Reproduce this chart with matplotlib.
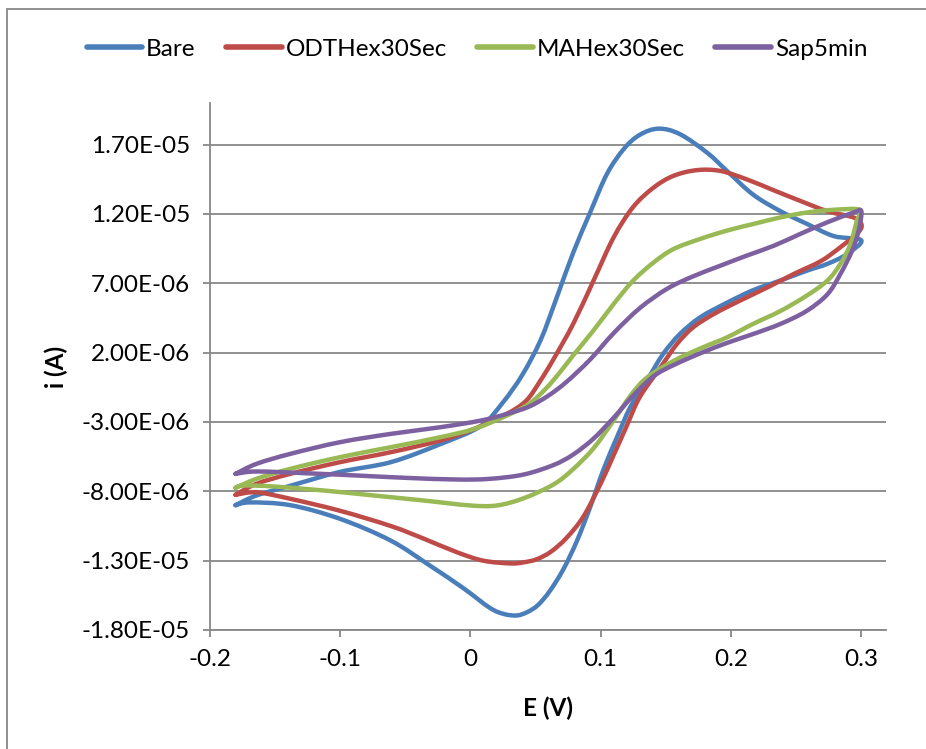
import numpy as np
import matplotlib

matplotlib.use("Agg")
import matplotlib.pyplot as plt
from matplotlib.lines import Line2D
from matplotlib.patches import PathPatch, Rectangle
from matplotlib.path import Path
from matplotlib.ticker import FuncFormatter

# potential (V) and current (uA), one closed loop each:
# forward scan from the left vertex, then the return scan back to it
bare_e = [-0.180, -0.164, -0.138, -0.100, -0.061, -0.023, 0.008, 0.025, 0.040, 0.054,
          0.0665, 0.079, 0.092, 0.105, 0.118, 0.130, 0.1445, 0.161, 0.182, 0.197,
          0.217, 0.238, 0.258, 0.279, 0.300,
          0.289, 0.274, 0.258, 0.238, 0.217, 0.197, 0.1765, 0.161, 0.148, 0.1356,
          0.123, 0.1126, 0.102, 0.092, 0.082, 0.0716, 0.061, 0.052, 0.044, 0.036,
          0.026, 0.015, -0.005, -0.031, -0.061, -0.100, -0.138, -0.169, -0.180]
bare_i = [-9.0, -8.3, -7.6, -6.6, -5.9, -4.6, -3.3, -1.6, 0.4, 2.9,
          6.0, 9.2, 12.1, 14.9, 16.7, 17.7, 18.15, 17.75, 16.4, 15.1,
          13.4, 12.2, 11.3, 10.4, 10.1,
          9.1, 8.4, 7.9, 7.2, 6.5, 5.6, 4.55, 3.35, 1.9, 0.0,
          -1.9, -4.1, -6.5, -9.15, -11.55, -13.6, -15.2, -16.2, -16.7, -16.95,
          -16.85, -16.4, -15.0, -13.35, -11.55, -9.98, -9.0, -8.8, -9.0]

odt_e = [-0.180, -0.164, -0.138, -0.100, -0.061, -0.023, 0.003, 0.028, 0.043, 0.054,
         0.064, 0.079, 0.0946, 0.110, 0.125, 0.1407, 0.156, 0.174, 0.192, 0.212,
         0.233, 0.253, 0.274, 0.294, 0.300,
         0.298, 0.284, 0.269, 0.248, 0.228, 0.207, 0.187, 0.171, 0.1586, 0.146,
         0.130, 0.120, 0.110, 0.100, 0.087, 0.074, 0.062, 0.051, 0.041, 0.031,
         0.010, -0.010, -0.036, -0.061, -0.100, -0.138, -0.164, -0.180]
odt_i = [-8.25, -7.46, -6.74, -5.9, -5.18, -4.34, -3.5, -2.42, -1.46, 0.0,
         1.54, 4.07, 7.19, 10.3, 12.5, 13.9, 14.75, 15.16, 15.1, 14.5,
         13.7, 12.95, 12.2, 11.75, 11.3,
         10.7, 9.6, 8.6, 7.66, 6.7, 5.75, 4.79, 3.82, 2.62, 0.94,
         -1.22, -3.3, -5.4, -7.46, -9.8, -11.35, -12.35, -12.9, -13.12, -13.2,
         -13.0, -12.4, -11.4, -10.5, -9.4, -8.54, -8.07, -8.25]

mah_e = [-0.180, -0.164, -0.138, -0.100, -0.061, -0.023, 0.003, 0.028, 0.045, 0.058,
         0.069, 0.079, 0.0946, 0.110, 0.125, 0.1407, 0.156, 0.1765, 0.197, 0.217,
         0.238, 0.258, 0.279, 0.299,
         0.2966, 0.2916, 0.284, 0.274, 0.258, 0.238, 0.217, 0.197, 0.1765, 0.156,
         0.1356, 0.123, 0.110, 0.0946, 0.079, 0.064, 0.041, 0.0205, 0.000, -0.036,
         -0.074, -0.1126, -0.151, -0.174, -0.180]
mah_i = [-7.75, -7.1, -6.38, -5.54, -4.82, -4.1, -3.5, -2.54, -1.7, -0.6,
         0.6, 1.8, 3.6, 5.5, 7.19, 8.5, 9.47, 10.2, 10.8, 11.27,
         11.75, 12.1, 12.3, 12.3,
         11.5, 9.8, 8.4, 7.19, 6.1, 5.0, 4.07, 3.1, 2.3, 1.4,
         0.2, -1.1, -2.9, -4.9, -6.4, -7.5, -8.5, -9.02, -9.02, -8.66,
         -8.3, -7.94, -7.65, -7.58, -7.75]

sap_e = [-0.180, -0.164, -0.138, -0.100, -0.061, -0.023, 0.008, 0.028, 0.045, 0.060,
         0.074, 0.092, 0.110, 0.130, 0.151, 0.171, 0.192, 0.212, 0.233, 0.253,
         0.274, 0.294, 0.300,
         0.298, 0.293, 0.284, 0.274, 0.258, 0.238, 0.217, 0.197, 0.1765, 0.156,
         0.1407, 0.125, 0.110, 0.0946, 0.079, 0.064, 0.041, 0.015, -0.010, -0.049,
         -0.087, -0.125, -0.164, -0.180]
sap_i = [-6.74, -6.02, -5.3, -4.46, -3.86, -3.38, -2.9, -2.42, -1.9, -1.1,
         -0.1, 1.5, 3.4, 5.2, 6.6, 7.5, 8.27, 8.99, 9.71, 10.55,
         11.4, 12.1, 12.2,
         10.8, 9.35, 7.67, 6.2, 5.0, 4.07, 3.34, 2.7, 1.95, 1.1,
         0.3, -1.1, -2.7, -4.2, -5.35, -6.1, -6.79, -7.1, -7.15, -7.03,
         -6.86, -6.7, -6.57, -6.74]

series_names = ["Bare", "ODTHex30Sec", "MAHex30Sec", "Sap5min"]
series_e = [bare_e, odt_e, mah_e, sap_e]
series_i = [bare_i, odt_i, mah_i, sap_i]
colors = ["#4A7EBB", "#BE4B48", "#98B954", "#7D60A0"]

x_ticks = [-0.2, -0.1, 0.0, 0.1, 0.2, 0.3]
y_ticks = [-1.8e-5, -1.3e-5, -8e-6, -3e-6, 2e-6, 7e-6, 1.2e-5, 1.7e-5]


def smooth_path(x, y):
    """Excel-style smoothed line: Bezier segments through every point (Catmull-Rom tangents)."""
    pts = np.column_stack([x, y])
    n = len(pts)
    verts = [pts[0]]
    codes = [Path.MOVETO]
    for k in range(n - 1):
        p0 = pts[k - 1] if k > 0 else pts[k]
        p1, p2 = pts[k], pts[k + 1]
        p3 = pts[k + 2] if k + 2 < n else pts[k + 1]
        verts += [p1 + (p2 - p0) / 6, p2 - (p3 - p1) / 6, p2]
        codes += [Path.CURVE4] * 3
    return Path(verts, codes)


plt.rcParams["font.family"] = ["Lato", "DejaVu Sans"]
grey = "#878787"
fs = 17.5

fig = plt.figure(figsize=(9.26, 7.49), dpi=100)
ax = fig.add_axes([209.5 / 926, 119 / 749, 676.5 / 926, 527 / 749])

handles = []
for name, e, cur, col in zip(series_names, series_e, series_i, colors):
    path = smooth_path(e, np.array(cur) * 1e-6)
    ax.add_patch(PathPatch(path, fill=False, edgecolor=col, lw=3.2,
                           capstyle="round", joinstyle="round"))
    handles.append(Line2D([], [], color=col, lw=4, solid_capstyle="round", label=name))

ax.set_xlim(-0.2, 0.319)
ax.set_ylim(-1.8e-5, 2.0e-5)
ax.set_xticks(x_ticks)
ax.set_yticks(y_ticks)
ax.xaxis.set_major_formatter(FuncFormatter(lambda v, p: f"{round(v, 1):g}"))
ax.yaxis.set_major_formatter(FuncFormatter(lambda v, p: f"{v:.2E}"))
ax.grid(axis="y", color=grey, lw=1.3)
ax.set_axisbelow(True)

for side in ("top", "right"):
    ax.spines[side].set_visible(False)
for side in ("left", "bottom"):
    ax.spines[side].set_color(grey)
    ax.spines[side].set_linewidth(1.3)
ax.tick_params(axis="both", direction="out", length=5, width=1.3, color=grey,
               labelsize=fs, colors="black")
ax.tick_params(axis="y", pad=9)
ax.tick_params(axis="x", pad=9)

ax.set_xlabel("E (V)", fontsize=fs, fontweight="bold", labelpad=19)
ax.set_ylabel("i (A)", fontsize=fs, fontweight="bold", labelpad=10)

fig.legend(handles=handles, loc="center", bbox_to_anchor=(477 / 926, 1 - 49 / 749), ncol=4,
           frameon=False, fontsize=fs, handlelength=2.3, handletextpad=0.15,
           columnspacing=1.25)

# chart area border, like the Excel frame
fig.patches.append(Rectangle((7 / 926, -0.1), 2.0, 1.1 - 9 / 749, transform=fig.transFigure,
                             fill=False, edgecolor=grey, lw=1.3))

fig.savefig("out.png", dpi=100)
